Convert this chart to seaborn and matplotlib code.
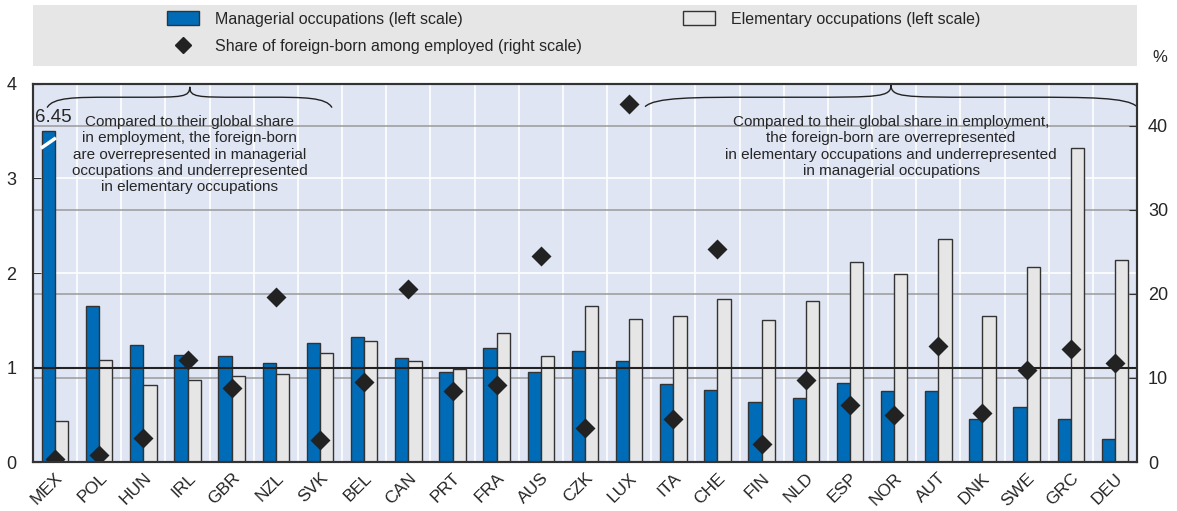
import seaborn as sns
import matplotlib.pyplot as plt
import pandas as pd
import numpy as np
from matplotlib.patches import Patch, Rectangle, PathPatch
from matplotlib.lines import Line2D
from matplotlib.path import Path
from matplotlib.transforms import blended_transform_factory, ScaledTranslation

# data
countries = ["MEX", "POL", "HUN", "IRL", "GBR", "NZL", "SVK", "BEL", "CAN", "PRT",
             "FRA", "AUS", "CZK", "LUX", "ITA", "CHE", "FIN", "NLD", "ESP", "NOR",
             "AUT", "DNK", "SWE", "GRC", "DEU"]
managerial = [6.45, 1.65, 1.235, 1.13, 1.12, 1.05, 1.26, 1.32, 1.10, 0.955,
              1.21, 0.95, 1.175, 1.07, 0.825, 0.76, 0.63, 0.68, 0.84, 0.755,
              0.75, 0.45, 0.58, 0.46, 0.245]
elementary = [0.43, 1.08, 0.81, 0.865, 0.91, 0.935, 1.15, 1.28, 1.07, 0.98,
              1.37, 1.12, 1.65, 1.51, 1.54, 1.73, 1.50, 1.70, 2.12, 1.99,
              2.36, 1.54, 2.06, 3.32, 2.14]
foreign_share = [0.3, 0.8, 2.9, 12.1, 8.8, 19.7, 2.6, 9.5, 20.6, 8.5,
                 9.2, 24.5, 4.05, 42.6, 5.1, 25.4, 2.2, 9.8, 6.75, 5.55,
                 13.8, 5.8, 10.9, 13.5, 11.8]

left_ticks = [0, 1, 2, 3, 4]
right_ticks = [0, 10, 20, 30, 40]

lab_man = "Managerial occupations (left scale)"
lab_elem = "Elementary occupations (left scale)"
lab_share = "Share of foreign-born among employed (right scale)"
note_left = ("Compared to their global share\nin employment, the foreign-born\n"
             "are overrepresented in managerial\noccupations and underrepresented\n"
             "in elementary occupations")
note_right = ("Compared to their global share in employment,\nthe foreign-born are overrepresented\n"
              "in elementary occupations and underrepresented\nin managerial occupations")

BLUE = "#006BB6"
GREY = "#E6E6E6"
EDGE = "#333333"
BG = "#DFE5F3"
BREAK_AT = 3.5  # bars above this get cut (axis break)

sns.set_style("white")
plt.rcParams['font.family'] = ['Liberation Sans Narrow', 'Liberation Sans', 'DejaVu Sans']

# long table for seaborn
shown = [min(v, BREAK_AT) for v in managerial]
df = pd.DataFrame({
    "country": countries * 2,
    "value": shown + elementary,
    "series": [lab_man] * len(countries) + [lab_elem] * len(countries),
})

W, H = 1177, 511
fig = plt.figure(figsize=(W / 100, H / 100), dpi=100)
ax = fig.add_axes([33 / W, 49 / H, 1104 / W, 378 / H])
ax.set_facecolor(BG)

sns.barplot(data=df, x="country", y="value", hue="series", order=countries,
            hue_order=[lab_man, lab_elem], palette=[BLUE, GREY], width=0.6,
            saturation=1, edgecolor=EDGE, linewidth=1, legend=False, ax=ax, zorder=2)

ax2 = ax.twinx()
sns.pointplot(x=countries, y=foreign_share, order=countries, ax=ax2,
              linestyle="none", marker="D", markersize=8, color="#222222",
              errorbar=None)

n = len(countries)
ax.set_xlim(-0.5, n - 0.5)
ax.set_ylim(0, 4)
ax2.set_ylim(0, 45)
ax.set_yticks(left_ticks)
ax2.set_yticks(right_ticks)
ax.set_xlabel("")
ax.set_ylabel("")
ax2.set_ylabel("")
ax2.set_xlabel("")

# grids: white for the left scale and the category gaps, grey for the right scale
for t in left_ticks[1:-1]:
    ax.axhline(t, color="white", lw=1.2, zorder=0.5)
for i in range(n - 1):
    ax.axvline(i + 0.5, color="white", lw=1.2, zorder=0.5)
tr = blended_transform_factory(ax.transAxes, ax2.transData)
for t in right_ticks[1:]:
    ax.plot([0, 1], [t, t], color="#9A9A9A", lw=1.1, transform=tr, zorder=0.8)
ax.axhline(1, color="#222222", lw=1.5, zorder=3)

# ticks
ax.set_xticks(range(n))
ax.set_xticklabels(countries, rotation=45, ha="right", va="top",
                   rotation_mode="anchor", fontsize=12.5)
offset = ScaledTranslation(8 / 100, 0, fig.dpi_scale_trans)
for lab in ax.get_xticklabels():
    lab.set_transform(lab.get_transform() + offset)
ax.tick_params(axis="x", length=0, pad=6)
ax.set_xticks([i + 0.5 for i in range(n - 1)], minor=True)
ax.tick_params(axis="x", which="minor", direction="in", length=7, color="#888888", width=1.2)
ax.tick_params(axis="y", direction="in", length=6, color=EDGE, labelsize=13, pad=12)
ax2.tick_params(axis="y", direction="in", length=6, color=EDGE, labelsize=13, pad=8)
for a in (ax, ax2):
    for s in a.spines.values():
        s.set_color(EDGE)
        s.set_linewidth(1.5)

# axis break on the Mexican bar (blue bar spans -0.3 .. 0)
ax.plot([-0.32, 0.02], [3.32, 3.43], color="white", lw=2.5, zorder=4, solid_capstyle="butt")
ax.text(-0.03, 3.56, f"{managerial[0]:.2f}", ha="center", va="bottom", fontsize=13.5, zorder=5)


def brace(a, x0, x1, xt, ye, ym, yt):
    h0 = xt - x0
    h1 = x1 - xt
    verts = [
        (x0, ye),
        (x0 + 0.04 * h0, ym), (x0 + 0.2 * h0, ym), (x0 + 0.45 * h0, ym),
        (xt - 0.35 * h0, ym),
        (xt - 0.05 * h0, ym), (xt, ym), (xt, yt),
        (xt, ym), (xt + 0.05 * h1, ym), (xt + 0.35 * h1, ym),
        (x1 - 0.45 * h1, ym),
        (x1 - 0.2 * h1, ym), (x1 - 0.04 * h1, ym), (x1, ye),
    ]
    codes = [Path.MOVETO, Path.CURVE4, Path.CURVE4, Path.CURVE4, Path.LINETO,
             Path.CURVE4, Path.CURVE4, Path.CURVE4,
             Path.CURVE4, Path.CURVE4, Path.CURVE4, Path.LINETO,
             Path.CURVE4, Path.CURVE4, Path.CURVE4]
    a.add_patch(PathPatch(Path(verts, codes), fill=False, edgecolor="#222222",
                          lw=1.0, zorder=5, clip_on=False))


brace(ax, -0.18, 6.27, 3.05, 3.75, 3.86, 3.97)
brace(ax, 13.36, 24.5, 18.93, 3.76, 3.86, 3.99)
ax.text(3.05, 3.67, note_left, ha="center", va="top", fontsize=11,
        linespacing=1.2, zorder=5)
ax.text(18.93, 3.67, note_right, ha="center", va="top", fontsize=11,
        linespacing=1.2, zorder=5)

# legend band
fig.patches.append(Rectangle((33 / W, 1 - 66 / H), 1104 / W, 61 / H,
                             transform=fig.transFigure, facecolor="#E6E6E6",
                             edgecolor="none", zorder=0))
h_man = Patch(facecolor=BLUE, edgecolor=EDGE, linewidth=1)
h_elem = Patch(facecolor=GREY, edgecolor=EDGE, linewidth=1)
h_share = Line2D([], [], marker="D", linestyle="none", markersize=8, color="#222222")
leg_kw = dict(frameon=False, fontsize=11.5, handlelength=2.0, handleheight=1.0,
              handletextpad=1.0, labelspacing=0.75, borderpad=0, borderaxespad=0,
              loc="upper left")
fig.legend([h_man, h_share], [lab_man, lab_share],
           bbox_to_anchor=(167 / W, 1 - 11 / H), **leg_kw)
fig.legend([h_elem], [lab_elem], bbox_to_anchor=(683 / W, 1 - 11 / H), **leg_kw)
fig.text(1160 / W, 1 - 58 / H, "%", ha="center", va="center", fontsize=12)

fig.savefig("out.png", dpi=100)
